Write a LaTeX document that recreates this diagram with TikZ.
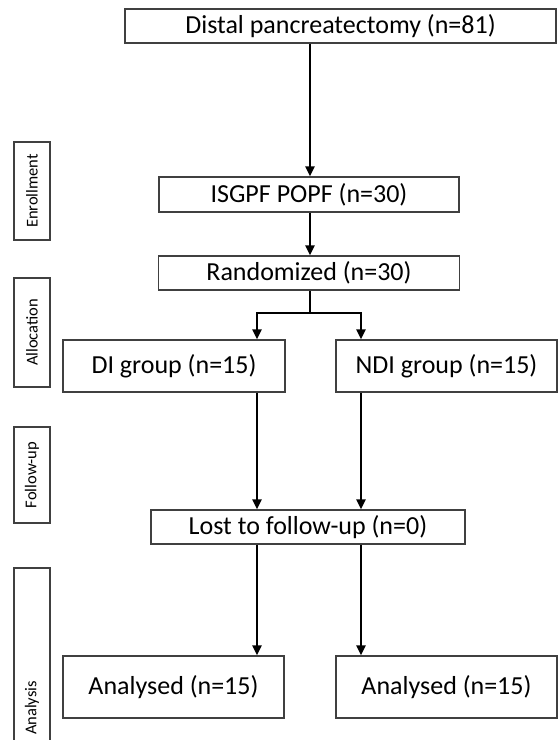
\documentclass[tikz,border=0pt]{standalone}
\usepackage{fontspec}
\setmainfont{Carlito}
\usetikzlibrary{arrows.meta}

\begin{document}
\begin{tikzpicture}[x=1pt,y=-1pt,
    box/.style={draw=black!75,line width=1.3pt,inner sep=0pt,
        font=\fontsize{26}{30}\selectfont},
    stage/.style={draw=black!75,line width=1.3pt,inner sep=0pt,rotate=90,
        minimum height=36,font=\fontsize{16.5}{20}\selectfont},
    flow/.style={line width=2.8pt,-{Triangle[length=10pt,width=9pt]}},
    link/.style={line width=2.8pt}]
    \useasboundingbox (0,0) rectangle (558,740);
    % Draw stage labels
    \node[stage,minimum width=98] (enrol) at (32,191) {Enrollment};
    \node[stage,minimum width=109] (alloc) at (32,332.5) {Allocation};
    \node[stage,minimum width=96] (follow) at (32,475) {Follow-up};
    \node[stage,minimum width=280] (anal) at (32,708) {Analysis};
    % Draw boxes
    \node[box,minimum width=431,minimum height=34] (dp) at (340.5,26) {Distal pancreatectomy (n=81)};
    \node[box,minimum width=300,minimum height=35] (isg) at (309,194.5) {ISGPF POPF (n=30)};
    \node[box,minimum width=301,minimum height=34] (rand) at (309,273) {Randomized (n=30)};
    \node[box,minimum width=222,minimum height=52] (di) at (174,366) {DI group (n=15)};
    \node[box,minimum width=221,minimum height=52] (ndi) at (446.5,366) {NDI group (n=15)};
    \node[box,minimum width=314,minimum height=34] (lost) at (308,527) {Lost to follow-up (n=0)};
    \node[box,minimum width=221,minimum height=62] (an1) at (173.5,687) {Analysed (n=15)};
    \node[box,minimum width=221,minimum height=62] (an2) at (446.5,687) {Analysed (n=15)};
    % Branch points
    \coordinate (split) at (310,313);
    \coordinate (lx) at (257,0);
    \coordinate (rx) at (361,0);
    % Draw arrows
    \draw[flow] (dp.south -| split) -- (isg.north -| split);
    \draw[flow] (isg.south -| split) -- (rand.north -| split);
    \draw[link] (rand.south -| split) -- (split);
    \draw[flow] (split) -| (di.north -| lx);
    \draw[flow] (split) -| (ndi.north -| rx);
    \draw[flow] (di.south -| lx) -- (lost.north -| lx);
    \draw[flow] (ndi.south -| rx) -- (lost.north -| rx);
    \draw[flow] (lost.south -| lx) -- (an1.north -| lx);
    \draw[flow] (lost.south -| rx) -- (an2.north -| rx);
\end{tikzpicture}
\end{document}
